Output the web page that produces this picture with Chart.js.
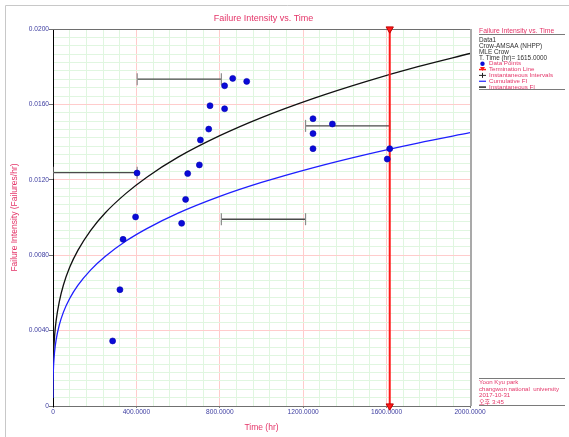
<!DOCTYPE html>
<html>
<head>
<meta charset="utf-8">
<title>Failure Intensity vs. Time</title>
<script src="https://cdn.jsdelivr.net/npm/chart.js@4.4.1/dist/chart.umd.min.js"></script>
<style>
  html, body { margin: 0; padding: 0; background: #fff; }
  #wrap { position: relative; width: 569px; height: 437px; }
</style>
</head>
<body>
<div id="wrap"><canvas id="fiChart"></canvas></div>
<script>
// observed failure intensity points (time in hr, failures/hr)
const failureTimes = [286, 321, 336, 396, 403, 617, 636, 646, 702, 707, 747, 753, 823, 823, 862, 929, 1247, 1247, 1247, 1340, 1603, 1615];
const failureIntensity = [0.00345, 0.00617, 0.00884, 0.01003, 0.01236, 0.00969, 0.01096, 0.01233, 0.01279, 0.01411, 0.01469, 0.01593, 0.01577, 0.01699, 0.01738, 0.01722, 0.01365, 0.01445, 0.01524, 0.01496, 0.01310, 0.01365];

// model curves
const curveTimes = [0.01, 0.1, 1, 3, 8, 15, 30, 50, 80, 120, 180, 250, 350, 450, 600, 800, 1000, 1250, 1500, 1750, 2000];
const cumulativeFI = [0.00042, 0.00082, 0.0016, 0.0022, 0.00292, 0.00351, 0.00429, 0.00498, 0.0057, 0.00641, 0.00721, 0.00793, 0.00875, 0.00941, 0.01023, 0.01112, 0.01186, 0.01265, 0.01334, 0.01395, 0.0145];
const instantaneousFI = [0.00054, 0.00106, 0.00206, 0.00284, 0.00377, 0.00453, 0.00553, 0.00642, 0.00736, 0.00827, 0.00931, 0.01024, 0.01128, 0.01214, 0.0132, 0.01434, 0.0153, 0.01632, 0.01721, 0.018, 0.0187];

// instantaneous intervals
const intervalStart = [0, 403.75, 807.5, 1211.25];
const intervalEnd = [403.75, 807.5, 1211.25, 1615];
const intervalRate = [0.01238, 0.01734, 0.00991, 0.01486];

const terminationTime = 1615;

// axes
const xTickValues = [0, 400, 800, 1200, 1600, 2000];
const xTickLabels = ["0", "400.0000", "800.0000", "1200.0000", "1600.0000", "2000.0000"];
const yTickValues = [0, 0.004, 0.008, 0.012, 0.016, 0.02];
const yTickLabels = ["0", "0.0040", "0.0080", "0.0120", "0.0160", "0.0200"];
const xMinorDiv = 5;
const yMinorDiv = 9;

const infoLines = ["Data1", "Crow-AMSAA (NHPP)", "MLE Crow", "T. Time (hr)= 1615.0000"];
const legendNames = ["Data Points", "Termination Line", "Instantaneous Intervals", "Cumulative FI", "Instantaneous FI"];
const footerLines = ["Yoon Kyu park", "changwon national  university", "2017-10-31", "오후 3:45"];

const PINK = "rgb(228,52,104)";
const TICK_BLUE = "#3c3ca0";
const FONT = '"Liberation Sans", Arial, "Noto Sans CJK KR", sans-serif';

Chart.defaults.font.family = FONT;

// major + minor grid ticks
function gridTicks(major, div) {
  const out = [];
  for (let i = 0; i < major.length - 1; i++) {
    const step = (major[i + 1] - major[i]) / div;
    for (let j = 0; j < div; j++) {
      out.push({ value: major[i] + j * step, isMajor: j === 0 });
    }
  }
  out.push({ value: major[major.length - 1], isMajor: true });
  return out;
}

const isMajor = (c) => c.tick && c.tick.isMajor;

// frames, title, info panel and footer
const decorations = {
  id: "decorations",
  beforeDatasetsDraw(chart) {
    const { ctx, chartArea: a } = chart;
    ctx.save();
    ctx.strokeStyle = "#c8c8c8";
    ctx.lineWidth = 1;
    ctx.beginPath();
    ctx.moveTo(5.5, 437);
    ctx.lineTo(5.5, 5.5);
    ctx.lineTo(569, 5.5);
    ctx.stroke();

    ctx.strokeStyle = "#6e6e6e";
    ctx.beginPath();
    ctx.moveTo(a.left, a.top + 0.5);
    ctx.lineTo(a.right, a.top + 0.5);
    ctx.stroke();

    ctx.strokeStyle = "#a9a9a9";
    ctx.lineWidth = 2;
    ctx.beginPath();
    ctx.moveTo(a.right + 1, a.top);
    ctx.lineTo(a.right + 1, a.bottom);
    ctx.stroke();
    ctx.restore();
  },
  afterDraw(chart) {
    const { ctx, chartArea: a } = chart;
    ctx.save();

    // chart title
    ctx.font = "9px " + FONT;
    ctx.fillStyle = PINK;
    ctx.textAlign = "center";
    ctx.textBaseline = "middle";
    ctx.fillText("Failure Intensity vs. Time", (a.left + a.right) / 2 + 2, 18.5);

    // info panel
    const px = 479, pr = 565;
    ctx.font = "6.8px " + FONT;
    ctx.textAlign = "left";
    ctx.fillText("Failure Intensity vs. Time", px, 31);
    ctx.strokeStyle = "#7a7a7a";
    ctx.lineWidth = 1;
    ctx.beginPath();
    ctx.moveTo(px, 34.5); ctx.lineTo(pr, 34.5);
    ctx.moveTo(px, 89.5); ctx.lineTo(pr, 89.5);
    ctx.stroke();

    let y = 40.3;
    const step = 5.85;
    ctx.fillStyle = "#303030";
    ctx.font = "6.4px " + FONT;
    infoLines.forEach((t) => { ctx.fillText(t, px, y); y += step; });

    const sx = 482.5;
    ctx.font = "6.2px " + FONT;
    legendNames.forEach((name, i) => {
      ctx.fillStyle = PINK;
      ctx.fillText(name, 489, y);
      ctx.beginPath();
      if (i === 0) {
        ctx.fillStyle = "#0a0ad8";
        ctx.arc(sx, y, 2.2, 0, Math.PI * 2);
        ctx.fill();
      } else if (i === 1) {
        ctx.strokeStyle = "#ff1a1a";
        ctx.lineWidth = 1.5;
        ctx.moveTo(sx - 3.5, y); ctx.lineTo(sx + 3.5, y);
        ctx.stroke();
        ctx.fillStyle = "#ff1a1a";
        ctx.beginPath();
        ctx.moveTo(sx - 2.5, y - 2.5); ctx.lineTo(sx + 2.5, y - 2.5); ctx.lineTo(sx, y + 1.5);
        ctx.closePath();
        ctx.fill();
      } else if (i === 2) {
        ctx.strokeStyle = "#222";
        ctx.lineWidth = 1;
        ctx.moveTo(sx - 3.5, y); ctx.lineTo(sx + 3.5, y);
        ctx.moveTo(sx, y - 2.5); ctx.lineTo(sx, y + 2.5);
        ctx.stroke();
      } else {
        ctx.strokeStyle = i === 3 ? "#2020ff" : "#333";
        ctx.lineWidth = i === 3 ? 1.2 : 1.6;
        ctx.moveTo(sx - 3.5, y); ctx.lineTo(sx + 3.5, y);
        ctx.stroke();
      }
      y += step;
    });

    // footer box
    ctx.strokeStyle = "#7a7a7a";
    ctx.lineWidth = 1;
    ctx.beginPath();
    ctx.moveTo(px, 378.5); ctx.lineTo(pr, 378.5);
    ctx.moveTo(px, 405.5); ctx.lineTo(pr, 405.5);
    ctx.stroke();
    ctx.fillStyle = PINK;
    ctx.font = "6.1px " + FONT;
    footerLines.forEach((t, i) => ctx.fillText(t, px, 382.6 + i * 6.6));

    ctx.restore();
  }
};

const intervalSets = intervalStart.map((s, i) => ({
  label: i === 0 ? "Instantaneous Intervals" : "",
  data: [{ x: s, y: intervalRate[i] }, { x: intervalEnd[i], y: intervalRate[i] }],
  showLine: true,
  borderColor: "#4a4a4a",
  borderWidth: 1.4,
  pointStyle: "line",
  rotation: 90,
  pointRadius: 6,
  pointBorderColor: "#8c8c8c",
  pointBorderWidth: 1.2,
  order: 2
}));

new Chart(document.getElementById("fiChart"), {
  type: "scatter",
  data: {
    datasets: [
      {
        label: "Data Points",
        data: failureTimes.map((t, i) => ({ x: t, y: failureIntensity[i] })),
        pointRadius: 3,
        pointBackgroundColor: "#0a0ad8",
        pointBorderColor: "#0000b0",
        pointBorderWidth: 0.6,
        order: 0
      },
      {
        label: "Termination Line",
        data: [{ x: terminationTime, y: 0 }, { x: terminationTime, y: 0.02 }],
        showLine: true,
        borderColor: "#ff1a1a",
        borderWidth: 2,
        pointStyle: "triangle",
        rotation: 180,
        pointRadius: 4.2,
        pointBackgroundColor: "#ff1a1a",
        pointBorderColor: "#c00000",
        pointBorderWidth: 1,
        clip: false,
        order: 1
      },
      ...intervalSets,
      {
        label: "Cumulative FI",
        data: curveTimes.map((t, i) => ({ x: t, y: cumulativeFI[i] })),
        showLine: true,
        borderColor: "#1e1eff",
        borderWidth: 1.3,
        pointRadius: 0,
        cubicInterpolationMode: "monotone",
        order: 3
      },
      {
        label: "Instantaneous FI",
        data: curveTimes.map((t, i) => ({ x: t, y: instantaneousFI[i] })),
        showLine: true,
        borderColor: "#111",
        borderWidth: 1.3,
        pointRadius: 0,
        cubicInterpolationMode: "monotone",
        order: 3
      }
    ]
  },
  options: {
    responsive: true,
    maintainAspectRatio: false,
    animation: false,
    events: [],
    layout: { padding: { top: 29, right: 99, bottom: 0, left: 0 } },
    plugins: {
      legend: { display: false },
      tooltip: { enabled: false }
    },
    scales: {
      x: {
        type: "linear",
        min: 0,
        max: 2000,
        afterFit: (s) => { s.height = 31; },
        afterBuildTicks: (s) => { s.ticks = gridTicks(xTickValues, xMinorDiv); },
        grid: {
          color: (c) => (isMajor(c) ? "#ffcccc" : "#e0f6e0"),
          tickColor: (c) => (isMajor(c) ? "#808080" : "rgba(0,0,0,0)"),
          tickLength: 2
        },
        border: { color: "#707070", width: 1 },
        ticks: {
          autoSkip: false,
          maxRotation: 0,
          padding: 0,
          color: TICK_BLUE,
          font: { size: 6.6 },
          callback: (v, i, ticks) => (ticks[i].isMajor ? xTickLabels[xTickValues.indexOf(v)] : "")
        },
        title: {
          display: true,
          text: "Time (hr)",
          color: PINK,
          font: { size: 8.5 },
          padding: { top: 0, bottom: 4 }
        }
      },
      y: {
        type: "linear",
        min: 0,
        max: 0.02,
        afterFit: (s) => { s.width = 53; },
        afterBuildTicks: (s) => { s.ticks = gridTicks(yTickValues, yMinorDiv); },
        grid: {
          color: (c) => (isMajor(c) ? "#ffcccc" : "#e0f6e0"),
          tickColor: (c) => (isMajor(c) ? "#707070" : "rgba(0,0,0,0)"),
          tickLength: 4
        },
        border: { color: "#000", width: 1 },
        ticks: {
          autoSkip: false,
          padding: 0,
          color: TICK_BLUE,
          font: { size: 6.6 },
          callback: (v, i, ticks) => (ticks[i].isMajor ? yTickLabels[yTickValues.indexOf(v)] : "")
        },
        title: {
          display: true,
          text: "Failure Intensity (Failures/hr)",
          color: PINK,
          font: { size: 8.5 },
          padding: { top: 10, bottom: 0 }
        }
      }
    }
  },
  plugins: [decorations]
});
</script>
</body>
</html>
